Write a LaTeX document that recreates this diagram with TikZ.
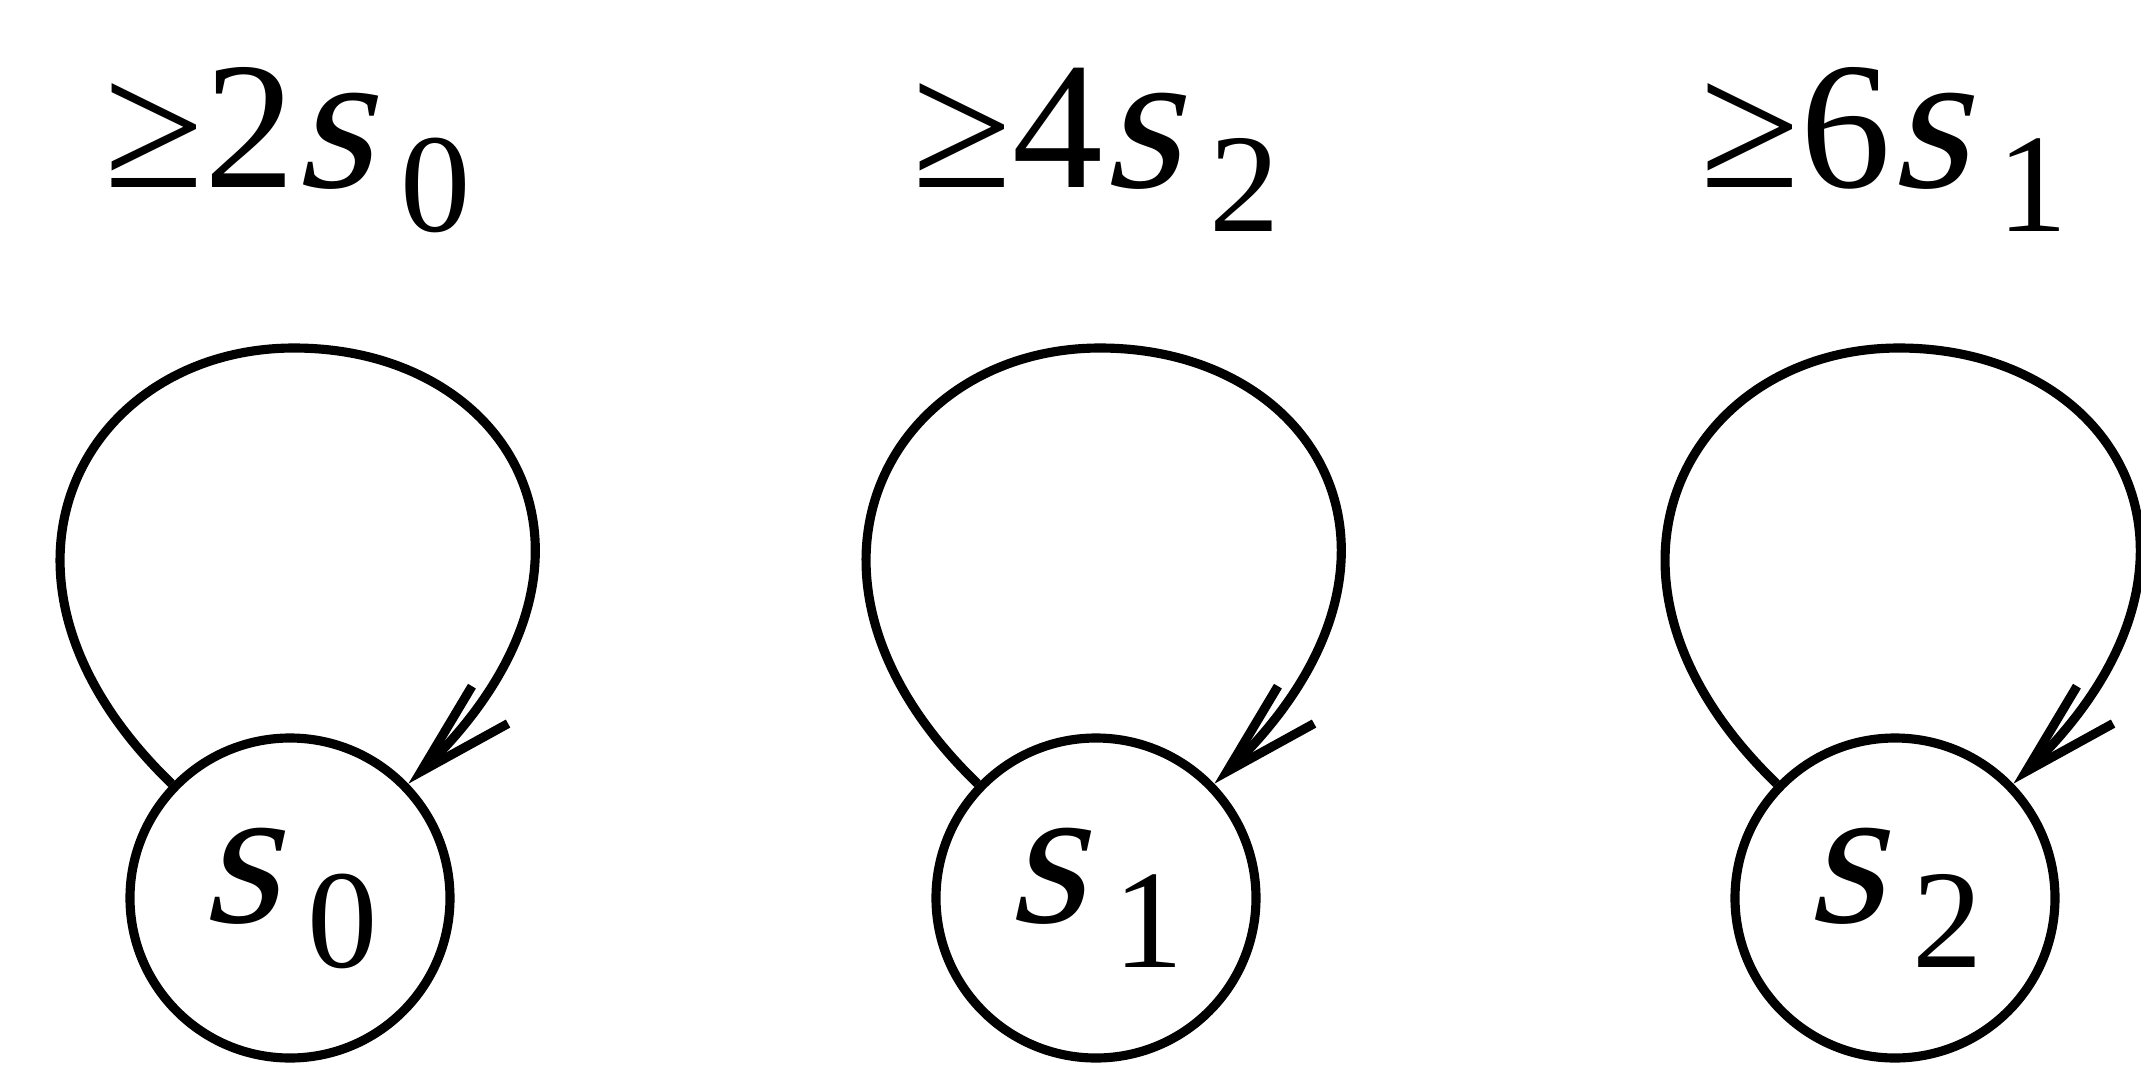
\documentclass[tikz,border=0pt]{standalone}
\usepackage{fontspec}
\setmainfont{Liberation Serif}
\newfontfamily\stitfont{Liberation Serif}[FakeSlant=0.22]
\usetikzlibrary{arrows.meta}

\newcommand{\stsub}[1]{\hspace{4pt}\raisebox{-6.4pt}{\fontsize{20}{20}\selectfont #1}}
\newcommand{\stname}[1]{{\fontsize{28.5}{30}\stitfont s}\stsub{#1}}

\begin{document}
\begin{tikzpicture}[every node/.style={font=\fontsize{25.8}{30}\selectfont},
  state/.style={draw, circle, line width=1.3pt, minimum size=1.6cm, inner sep=0pt},
  selfloop/.style={line width=1.3pt, -{Straight Barb[length=4.8mm,width=2.6mm]}}]
  \useasboundingbox (0,0) rectangle (10.705,5.36);
  % s0
  \node[state] (s0) at (1.45,0.87) {\stname{0}};
  \coordinate (t0) at (1.47,3.62);
  \draw[selfloop] (s0.136) .. controls +(136:1.5) and +(-1.05,0) .. (t0)
    .. controls +(1.1,0) and +(44:1.6) .. (s0.44);
  \node[anchor=base] (l0) at (1.44,4.425) {≥2\stname{0}};
  % s1
  \node[state] (s1) at (5.48,0.87) {\stname{1}};
  \coordinate (t1) at (5.50,3.62);
  \draw[selfloop] (s1.136) .. controls +(136:1.5) and +(-1.05,0) .. (t1)
    .. controls +(1.1,0) and +(44:1.6) .. (s1.44);
  \node[anchor=base] (l1) at (5.48,4.425) {≥4\stname{2}};
  % s2
  \node[state] (s2) at (9.475,0.87) {\stname{2}};
  \coordinate (t2) at (9.495,3.62);
  \draw[selfloop] (s2.136) .. controls +(136:1.5) and +(-1.05,0) .. (t2)
    .. controls +(1.1,0) and +(44:1.6) .. (s2.44);
  \node[anchor=base] (l2) at (9.42,4.425) {≥6\stname{1}};
\end{tikzpicture}
\end{document}
